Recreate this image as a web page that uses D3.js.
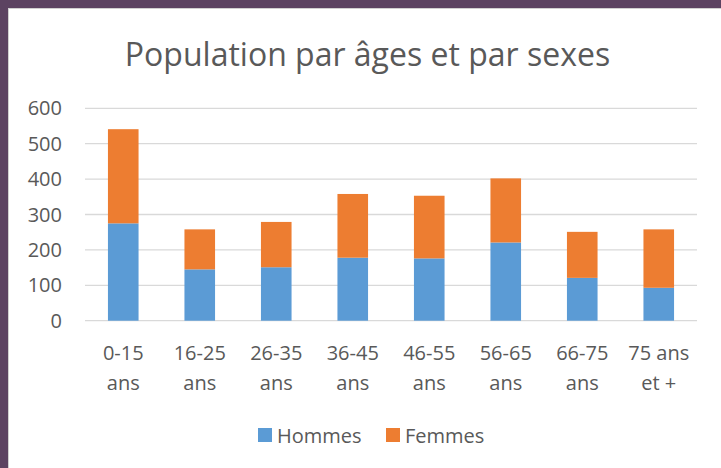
<!DOCTYPE html>
<html>
<head>
<meta charset="utf-8">
<script src="https://cdn.jsdelivr.net/npm/d3@7"></script>
<style>
  html, body { margin: 0; padding: 0; background: #fff; }
  svg { display: block; }
  text { font-family: "Open Sans", sans-serif; fill: #595959; }
</style>
</head>
<body>
<script>
// Data
const categories = ['0-15 ans', '16-25 ans', '26-35 ans', '36-45 ans', '46-55 ans', '56-65 ans', '66-75 ans', '75 ans et +'];
const categoryLines = [['0-15', 'ans'], ['16-25', 'ans'], ['26-35', 'ans'], ['36-45', 'ans'],
                       ['46-55', 'ans'], ['56-65', 'ans'], ['66-75', 'ans'], ['75 ans', 'et +']];
const hommes = [275, 145, 151, 178, 176, 221, 121, 93];
const femmes = [266, 113, 128, 180, 177, 181, 130, 165];
const yTicks = [0, 100, 200, 300, 400, 500, 600];
const seriesNames = ['Hommes', 'Femmes'];
const colors = ['#5b9bd5', '#ed7d31'];

const width = 721, height = 468;
const plot = { left: 85, right: 697, top: 108.3, bottom: 320.7 };

const svg = d3.select('body').append('svg')
  .attr('width', width)
  .attr('height', height);

// frame
svg.append('rect').attr('x', 0).attr('y', 0).attr('width', width).attr('height', height).attr('fill', '#5c4361');
svg.append('rect').attr('x', 8).attr('y', 8).attr('width', width - 8).attr('height', height - 8).attr('fill', '#d0d0d0');
svg.append('rect').attr('x', 9).attr('y', 9).attr('width', width - 9).attr('height', height - 9).attr('fill', '#fff');

// title
svg.append('text')
  .attr('x', 367.5)
  .attr('y', 66)
  .attr('text-anchor', 'middle')
  .style('font-size', '32px')
  .text('Population par âges et par sexes');

const x = d3.scaleBand()
  .domain(categories)
  .range([plot.left, plot.right])
  .paddingInner(0.6)
  .paddingOuter(0.3);

const y = d3.scaleLinear()
  .domain([0, 600])
  .range([plot.bottom, plot.top]);

// gridlines
svg.append('g')
  .selectAll('line')
  .data(yTicks)
  .enter()
  .append('line')
    .attr('x1', plot.left)
    .attr('x2', plot.right)
    .attr('y1', d => y(d))
    .attr('y2', d => y(d))
    .attr('stroke', '#d9d9d9')
    .attr('stroke-width', 1.3);

// y tick labels
svg.append('g')
  .selectAll('text')
  .data(yTicks)
  .enter()
  .append('text')
    .attr('x', 62)
    .attr('y', d => y(d))
    .attr('dy', '0.35em')
    .attr('text-anchor', 'end')
    .style('font-size', '20px')
    .text(d => d);

// stacked bars
const rows = categories.map((c, i) => ({ cat: c, Hommes: hommes[i], Femmes: femmes[i] }));
const stacked = d3.stack().keys(seriesNames)(rows);

svg.append('g')
  .selectAll('g')
  .data(stacked)
  .enter()
  .append('g')
    .attr('fill', (d, i) => colors[i])
  .selectAll('rect')
  .data(d => d)
  .enter()
  .append('rect')
    .attr('x', d => x(d.data.cat))
    .attr('width', x.bandwidth())
    .attr('y', d => y(d[1]))
    .attr('height', d => y(d[0]) - y(d[1]));

// category labels (two lines)
const catLabels = svg.append('g')
  .selectAll('text')
  .data(categories)
  .enter()
  .append('text')
    .attr('text-anchor', 'middle')
    .style('font-size', '20px');

catLabels.selectAll('tspan')
  .data((d, i) => categoryLines[i].map(line => ({ line, cat: d })))
  .enter()
  .append('tspan')
    .attr('x', d => x(d.cat) + x.bandwidth() / 2)
    .attr('y', (d, j) => 360 + j * 30)
    .text(d => d.line);

// legend
const legendItems = [
  { name: seriesNames[0], color: colors[0], x: 258 },
  { name: seriesNames[1], color: colors[1], x: 386 }
];
const legend = svg.append('g')
  .selectAll('g')
  .data(legendItems)
  .enter()
  .append('g')
    .attr('transform', d => `translate(${d.x},428)`);

legend.append('rect')
  .attr('width', 14)
  .attr('height', 14)
  .attr('fill', d => d.color);

legend.append('text')
  .attr('x', 19)
  .attr('y', 14.5)
  .style('font-size', '20px')
  .text(d => d.name);
</script>
</body>
</html>
